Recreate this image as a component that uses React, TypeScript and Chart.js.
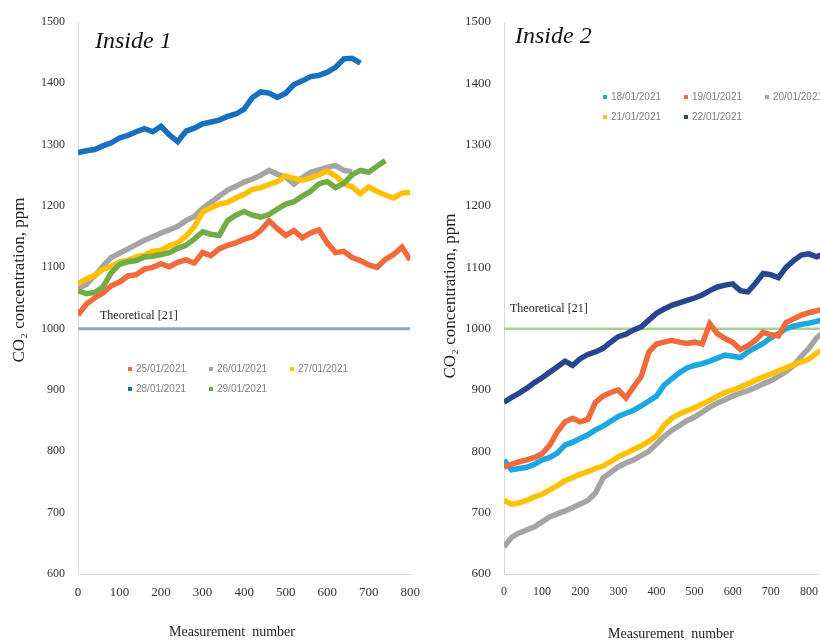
import React, { useEffect, useRef } from "react";
import { Chart, registerables } from "chart.js";

Chart.register(...registerables);

const SERIF = '"Liberation Serif", "Times New Roman", serif';
const SANS = '"Liberation Sans", Arial, sans-serif';

// ---------- Inside 1 ----------
const MEAS_L = [0, 20, 40, 60, 80, 100, 120, 140, 160, 180, 200, 220, 240, 260, 280, 300, 320, 340, 360, 380, 400, 420, 440, 460, 480, 500, 520, 540, 560, 580, 600, 620, 640, 660, 680, 700, 720, 740, 760, 780, 800];
const LABELS_L = ["25/01/2021", "26/01/2021", "27/01/2021", "28/01/2021", "29/01/2021"];
const COLORS_L = ["#F2693A", "#A5A5A5", "#FFC000", "#1670BE", "#70AD47"];
const S25 = [1022, 1040, 1050, 1058, 1070, 1076, 1086, 1088, 1097, 1100, 1106, 1101, 1108, 1112, 1107, 1124, 1119, 1130, 1136, 1140, 1146, 1150, 1160, 1176, 1163, 1152, 1160, 1148, 1156, 1161, 1140, 1124, 1126, 1116, 1111, 1104, 1100, 1113, 1121, 1133, 1112];
const S26 = [1066, 1072, 1086, 1102, 1116, 1123, 1130, 1137, 1144, 1150, 1156, 1161, 1167, 1176, 1183, 1196, 1206, 1216, 1226, 1232, 1239, 1244, 1250, 1258, 1252, 1247, 1236, 1246, 1255, 1259, 1263, 1266, 1258, 1256];
const S27 = [1073, 1081, 1087, 1097, 1101, 1109, 1111, 1117, 1120, 1126, 1128, 1135, 1140, 1151, 1166, 1190, 1197, 1203, 1206, 1213, 1219, 1227, 1230, 1235, 1240, 1249, 1245, 1242, 1246, 1251, 1257, 1249, 1237, 1231, 1220, 1231, 1224, 1218, 1213, 1221, 1222];
const S28 = [1287, 1290, 1292, 1298, 1303, 1311, 1315, 1321, 1326, 1321, 1330, 1316, 1305, 1322, 1327, 1334, 1337, 1340, 1346, 1350, 1358, 1377, 1386, 1384, 1377, 1384, 1398, 1404, 1411, 1413, 1418, 1426, 1440, 1441, 1433];
const S29 = [1062, 1057, 1059, 1068, 1091, 1105, 1109, 1111, 1117, 1118, 1121, 1124, 1131, 1136, 1146, 1158, 1154, 1152, 1176, 1185, 1191, 1185, 1182, 1186, 1195, 1203, 1207, 1216, 1224, 1236, 1240, 1230, 1237, 1251, 1258, 1255, 1265, 1274];

// ---------- Inside 2 ----------
const MEAS_R = [0, 20, 40, 60, 80, 100, 120, 140, 160, 180, 200, 220, 240, 260, 280, 300, 320, 340, 360, 380, 400, 420, 440, 460, 480, 500, 520, 540, 560, 580, 600, 620, 640, 660, 680, 700, 720, 740, 760, 780, 800, 820, 840];
const LABELS_R = ["18/01/2021", "19/01/2021", "20/01/2021", "21/01/2021", "22/01/2021"];
const COLORS_R = ["#1AA7E2", "#F2693A", "#A5A5A5", "#FFC000", "#27468F"];
const S18 = [786, 770, 772, 774, 779, 786, 790, 797, 810, 815, 821, 827, 835, 841, 849, 857, 862, 867, 874, 882, 890, 908, 918, 928, 936, 940, 943, 947, 952, 957, 955, 953, 962, 969, 976, 985, 992, 1000, 1004, 1007, 1009, 1012, 1015];
const S19 = [774, 779, 783, 786, 790, 796, 810, 832, 848, 854, 848, 852, 880, 890, 896, 900, 887, 905, 922, 962, 975, 978, 981, 978, 976, 978, 975, 1008, 992, 984, 978, 966, 972, 981, 994, 990, 988, 1010, 1016, 1022, 1026, 1029, 1032];
const S20 = [644, 660, 667, 672, 677, 685, 693, 698, 703, 708, 714, 720, 732, 757, 766, 775, 781, 786, 793, 800, 812, 824, 834, 842, 850, 856, 864, 872, 879, 884, 890, 895, 899, 904, 910, 915, 922, 930, 940, 955, 968, 985, 995];
const S21 = [720, 714, 716, 720, 726, 730, 737, 744, 752, 757, 763, 767, 772, 776, 783, 791, 797, 803, 809, 816, 825, 842, 854, 861, 866, 871, 877, 883, 890, 896, 900, 905, 910, 916, 921, 926, 931, 936, 941, 946, 950, 960, 966];
const S22 = [880, 888, 895, 903, 912, 920, 929, 938, 947, 940, 951, 958, 962, 968, 978, 987, 991, 998, 1003, 1014, 1025, 1032, 1038, 1042, 1046, 1050, 1055, 1062, 1068, 1071, 1073, 1062, 1060, 1074, 1090, 1088, 1083, 1100, 1111, 1120, 1122, 1117, 1122];

const THEORETICAL = 1000;
const THEO_LABEL = "Theoretical [21]";
const Y_TITLE = "CO\u2082 concentration, ppm";
const X_TITLE = "Measurement  number";

type PanelCfg = {
  title: string;
  titleDx: number;
  titleY: number;
  titleSize: number;
  theoDx: number;
  theoDy: number;
  legendDx: number;
  legendY: number[];
  yTitleX: number;
  yTitleY: number;
  xTitleX: number;
  xTitleY: number;
  xTitleSize: number;
};

function overlay(cfg: PanelCfg) {
  return {
    id: "overlay",
    afterDatasetsDraw(chart: any) {
      const { ctx, chartArea, scales } = chart;
      ctx.save();
      ctx.fillStyle = "#111";
      ctx.textBaseline = "middle";
      ctx.textAlign = "left";
      ctx.font = `italic ${cfg.titleSize}px ${SERIF}`;
      ctx.fillText(cfg.title, chartArea.left + cfg.titleDx, cfg.titleY);
      ctx.font = `12px ${SERIF}`;
      ctx.fillStyle = "#222";
      const yT = scales.y.getPixelForValue(THEORETICAL);
      ctx.fillText(THEO_LABEL, chartArea.left + cfg.theoDx, yT - cfg.theoDy);
      const items = chart.data.datasets.filter((d: any) => !d.isTheo);
      ctx.font = `10px ${SANS}`;
      items.forEach((d: any, i: number) => {
        const col = i % 3;
        const row = Math.floor(i / 3);
        const x = chartArea.left + cfg.legendDx + col * 81;
        const y = cfg.legendY[row];
        ctx.fillStyle = d.borderColor;
        ctx.fillRect(x - 2, y - 2, 4, 4);
        ctx.fillStyle = "#7f7f7f";
        ctx.fillText(d.label, x + 6, y);
      });
      ctx.fillStyle = "#222";
      ctx.textAlign = "center";
      ctx.font = `${cfg.xTitleSize}px ${SERIF}`;
      ctx.fillText(X_TITLE, cfg.xTitleX, cfg.xTitleY);
      ctx.translate(cfg.yTitleX, cfg.yTitleY);
      ctx.rotate(-Math.PI / 2);
      ctx.font = `17px ${SERIF}`;
      ctx.fillText(Y_TITLE, 0, 0);
      ctx.restore();
    },
  };
}

function buildChart(
  canvas: HTMLCanvasElement,
  meas: number[],
  series: number[][],
  labels: string[],
  colors: string[],
  xMax: number,
  theoColor: string,
  theoWidth: number,
  yAxisWidth: number,
  tickSizeY: number,
  tickSizeX: number,
  cfg: PanelCfg
) {
  const n = series.length;
  const datasets: any[] = series.map((vals, i) => ({
    label: labels[i],
    data: vals.map((v, k) => ({ x: meas[k], y: v })),
    borderColor: colors[i],
    backgroundColor: colors[i],
    borderWidth: 5.5,
    pointRadius: 0,
    tension: 0,
    order: n - i,
  }));
  datasets.push({
    label: THEO_LABEL,
    isTheo: true,
    data: [
      { x: 0, y: THEORETICAL },
      { x: xMax, y: THEORETICAL },
    ],
    borderColor: theoColor,
    borderWidth: theoWidth,
    pointRadius: 0,
    order: 100,
  });
  return new Chart(canvas, {
    type: "line",
    data: { datasets },
    options: {
      responsive: false,
      animation: false,
      layout: { padding: { top: 22, right: 0, bottom: 0, left: 0 } },
      plugins: { legend: { display: false }, tooltip: { enabled: false } },
      scales: {
        x: {
          type: "linear",
          min: 0,
          max: xMax,
          ticks: {
            stepSize: 100,
            font: { family: SERIF, size: tickSizeX },
            color: "#333",
            padding: 0,
            maxRotation: 0,
            autoSkip: false,
            callback: (v: any) => String(v),
          },
          grid: {
            display: true,
            drawOnChartArea: false,
            drawTicks: true,
            tickLength: 11,
            color: "rgba(0,0,0,0)",
          },
          border: { color: "#d9d9d9", width: 1 },
          afterFit: (s: any) => {
            s.height = 69;
          },
        },
        y: {
          min: 600,
          max: 1500,
          ticks: {
            stepSize: 100,
            font: { family: SERIF, size: tickSizeY },
            color: "#333",
            padding: 13,
            callback: (v: any) => String(v),
          },
          grid: { display: false, drawTicks: false },
          border: { color: "#d9d9d9", width: 1 },
          afterFit: (s: any) => {
            s.width = yAxisWidth;
          },
        },
      },
    } as any,
    plugins: [overlay(cfg)],
  });
}

export default function App() {
  const leftRef = useRef<HTMLCanvasElement>(null);
  const rightRef = useRef<HTMLCanvasElement>(null);

  useEffect(() => {
    const c1 = buildChart(
      leftRef.current!,
      MEAS_L,
      [S25, S26, S27, S28, S29],
      LABELS_L,
      COLORS_L,
      800,
      "#8FA9BC",
      3,
      78,
      12,
      13,
      {
        title: "Inside 1",
        titleDx: 17,
        titleY: 42,
        titleSize: 24,
        theoDx: 22,
        theoDy: 13,
        legendDx: 52,
        legendY: [369, 389],
        yTitleX: 20,
        yTitleY: 280,
        xTitleX: 232,
        xTitleY: 632,
        xTitleSize: 14,
      }
    );
    const c2 = buildChart(
      rightRef.current!,
      MEAS_R,
      [S18, S19, S20, S21, S22],
      LABELS_R,
      COLORS_R,
      900,
      "#A9D18E",
      2.5,
      84,
      13,
      12,
      {
        title: "Inside 2",
        titleDx: 11,
        titleY: 37,
        titleSize: 24,
        theoDx: 6,
        theoDy: 20,
        legendDx: 101,
        legendY: [97, 117],
        yTitleX: 31,
        yTitleY: 296,
        xTitleX: 251,
        xTitleY: 634,
        xTitleSize: 14,
      }
    );
    return () => {
      c1.destroy();
      c2.destroy();
    };
  }, []);

  return (
    <div
      style={{
        position: "fixed",
        left: 0,
        top: 0,
        width: 820,
        height: 643,
        overflow: "hidden",
        background: "#fff",
      }}
    >
      <canvas
        ref={leftRef}
        width={420}
        height={643}
        style={{ position: "absolute", left: 0, top: 0, width: 420, height: 643 }}
      />
      <canvas
        ref={rightRef}
        width={436}
        height={643}
        style={{ position: "absolute", left: 420, top: 0, width: 436, height: 643 }}
      />
    </div>
  );
}
